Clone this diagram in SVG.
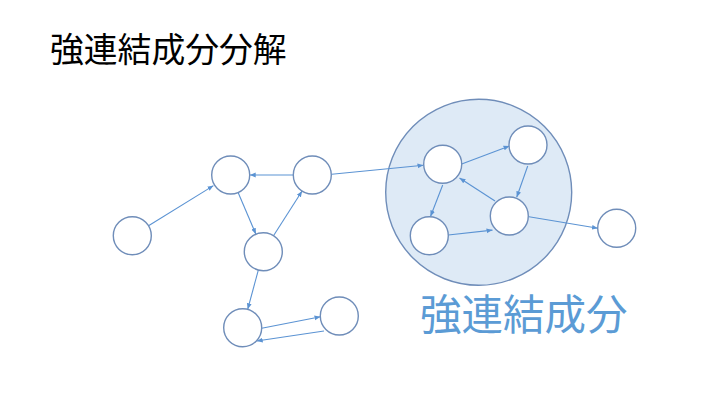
<svg xmlns="http://www.w3.org/2000/svg" width="720" height="402" viewBox="0 0 720 402">
<style>
.n{fill:#fff;stroke:#6F8DB9;stroke-width:1.4}
.e{stroke:#5B93D3;stroke-width:1.1;fill:none;marker-end:url(#ah)}
.t{font-family:"Noto Sans CJK JP","Noto Sans CJK SC",sans-serif}
</style>
<defs>
<marker id="ah" viewBox="0 0 10 10" refX="10" refY="5" markerWidth="6" markerHeight="6" orient="auto" markerUnits="userSpaceOnUse">
<path d="M0,1 L10,5 L0,9 z" fill="#5B93D3"/>
</marker>
</defs>
<rect width="720" height="402" fill="#fff"/>
<text class="t" x="50" y="62" font-size="33.8" fill="#000">強連結成分分解</text>
<g id="scc"><circle cx="478.7" cy="192.3" r="93" fill="#DEEAF6" stroke="#6F8DB9" stroke-width="1.4"/></g>
<text class="t" x="420" y="330" font-size="41.5" fill="#5B9BD5">強連結成分</text>
<g id="connectors">
<line class="e" x1="148.5" y1="225.7" x2="213.5" y2="185.6"/>
<line class="e" x1="293.3" y1="175" x2="249.7" y2="175"/>
<line class="e" x1="238.1" y1="192.5" x2="255.9" y2="234.2"/>
<line class="e" x1="273.5" y1="235.7" x2="302.1" y2="191"/>
<line class="e" x1="258.3" y1="270.1" x2="247.7" y2="309.3"/>
<line class="e" x1="261.7" y1="328.3" x2="320.5" y2="316.7"/>
<line class="e" x1="324" y1="331" x2="256.7" y2="341"/>
<line class="e" x1="331.7" y1="174.3" x2="423.5" y2="165.3"/>
<line class="e" x1="461.7" y1="164" x2="509.5" y2="146"/>
<line class="e" x1="527.7" y1="166" x2="516.7" y2="197.3"/>
<line class="e" x1="495" y1="201" x2="459.5" y2="178"/>
<line class="e" x1="442.7" y1="185" x2="430.5" y2="216.5"/>
<line class="e" x1="448.3" y1="235" x2="492.5" y2="230.1"/>
<line class="e" x1="529" y1="216.7" x2="598" y2="228.3"/>
</g>
<g id="nA"><circle class="n" cx="132.3" cy="235.7" r="19"/></g>
<g id="nB"><circle class="n" cx="230.7" cy="175" r="19"/></g>
<g id="nC"><circle class="n" cx="312.3" cy="175" r="19"/></g>
<g id="nD"><circle class="n" cx="263.3" cy="251.7" r="19"/></g>
<g id="nE"><circle class="n" cx="242.7" cy="327.7" r="19"/></g>
<g id="nF"><circle class="n" cx="339.3" cy="316" r="19"/></g>
<g id="nG"><circle class="n" cx="442.7" cy="164.3" r="19"/></g>
<g id="nH"><circle class="n" cx="528" cy="145" r="19"/></g>
<g id="nI"><circle class="n" cx="509.3" cy="216" r="19"/></g>
<g id="nJ"><circle class="n" cx="429.3" cy="235.7" r="19"/></g>
<g id="nK"><circle class="n" cx="616.7" cy="228.3" r="19"/></g>
</svg>
